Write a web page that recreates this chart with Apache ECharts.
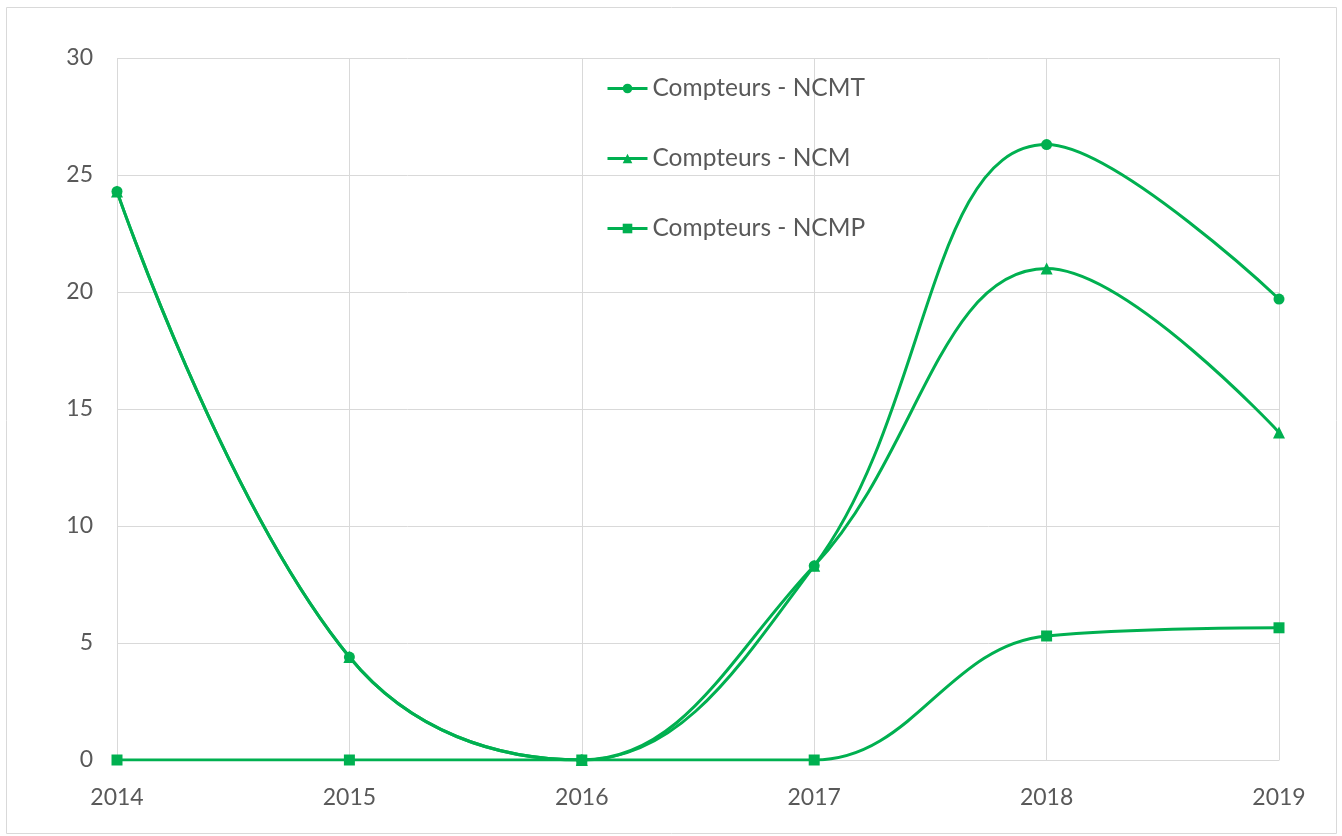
<!DOCTYPE html>
<html><head><meta charset="utf-8">
<script src="https://cdn.jsdelivr.net/npm/echarts@6/dist/echarts.min.js"></script>
<style>html,body{margin:0;padding:0;background:#fff}#c{width:1342px;height:836px}</style>
</head><body><div id="c"></div>
<script>
const years = ['2014','2015','2016','2017','2018','2019'];
const ncmt = [24.3, 4.4, 0, 8.3, 26.3, 19.7];
const ncm = [24.3, 4.4, 0, 8.3, 21.0, 14.0];
const ncmp = [0, 0, 0, 0, 5.3, 5.65];
const names = ['Compteurs - NCMT', 'Compteurs - NCM', 'Compteurs - NCMP'];
const green = '#00B050';
const font = 'Lato, "Open Sans", sans-serif';
function mk(name, data, sym, size, z){
  return {name, type:'line', data, smooth:0.4, symbol:sym, symbolSize:size, z,
    lineStyle:{color:green, width:3}, itemStyle:{color:green}};
}
const chart = echarts.init(document.getElementById('c'));
chart.setOption({
  animation:false,
  graphic:[{type:'rect', shape:{x:6.5,y:7.5,width:1330,height:826}, style:{fill:'none', stroke:'#d9d9d9', lineWidth:1}}],
  grid:{left:117, right:63, top:58, bottom:76},
  legend:{orient:'vertical', left:601, top:71, itemGap:45, itemWidth:40, itemHeight:12,
    lineStyle:{width:3},
    textStyle:{fontFamily:font, fontSize:24.5, color:'#595959'},
    data:names},
  xAxis:{type:'category', data:years, boundaryGap:false,
    axisLine:{lineStyle:{color:'#d9d9d9'}}, axisTick:{show:false},
    splitLine:{show:true, lineStyle:{color:'#d9d9d9'}},
    axisLabel:{fontFamily:font, fontSize:23, color:'#595959', margin:26,
      showMinLabel:true, showMaxLabel:true}},
  yAxis:{type:'value', min:0, max:30, interval:5,
    axisLine:{show:false}, axisTick:{show:false},
    splitLine:{lineStyle:{color:'#d9d9d9'}},
    axisLabel:{fontFamily:font, fontSize:23, color:'#595959', margin:24}},
  series:[
    mk(names[2], ncmp, 'rect', 11, 2),
    mk(names[1], ncm, 'triangle', 12, 3),
    mk(names[0], ncmt, 'circle', 11, 4)
  ]
});
</script></body></html>
